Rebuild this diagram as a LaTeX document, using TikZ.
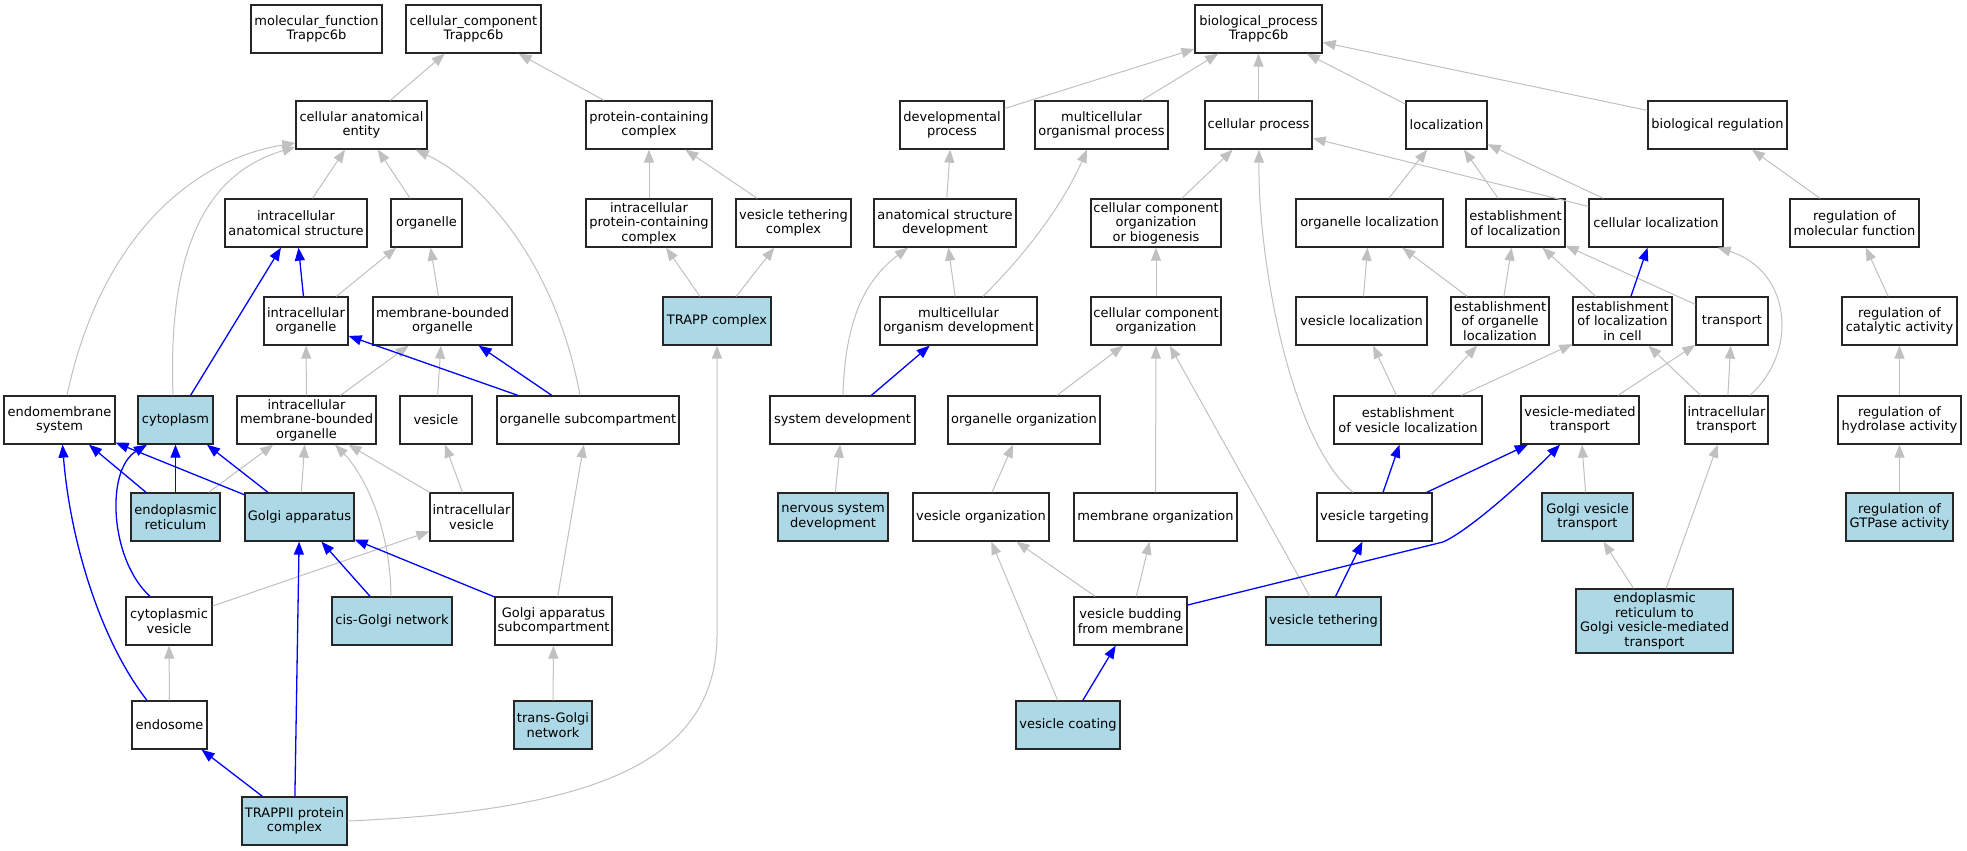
\documentclass[tikz,border=0pt]{standalone}
\usepackage{fontspec}
\setmainfont{DejaVu Sans}
\usepackage{tikz}
\usetikzlibrary{positioning, shapes, arrows.meta}
\definecolor{hitblue}{HTML}{ADD8E6}
\definecolor{isagrey}{HTML}{C0C0C0}
\begin{document}
\begin{tikzpicture}[x=1pt, y=-1pt,
	term/.style={rectangle, draw=black!85, line width=1.3pt, fill=white, minimum height=48pt, inner sep=0pt, align=center, font=\fontsize{13pt}{14.5pt}\selectfont},
	hit/.style={term, fill=hitblue},
	isa/.style={draw=isagrey, line width=1pt, -{Triangle[length=13pt, width=10pt]}},
	link/.style={draw=blue, line width=1.3pt, -{Triangle[length=13pt, width=10pt]}}]
					\useasboundingbox (0,0) rectangle (1967,851);
					\node[term, minimum width=131pt] (mf) at (316.5,29) {molecular\_function\\Trappc6b};
					\node[term, minimum width=135pt] (cc) at (473.5,29) {cellular\_component\\Trappc6b};
					\node[term, minimum width=127pt] (bp) at (1258.5,29) {biological\_process\\Trappc6b};
					
					\node[term, minimum width=131pt] (cae) at (361.5,125) {cellular anatomical\\entity};
					\node[term, minimum width=126pt] (pcc) at (649,125) {protein-containing\\complex};
					\node[term, minimum width=104pt] (devp) at (952,125) {developmental\\process};
					\node[term, minimum width=133pt] (mop) at (1101.5,125) {multicellular\\organismal process};
					\node[term, minimum width=107pt] (cp) at (1258.5,125) {cellular process};
					\node[term, minimum width=81pt] (loc) at (1446.5,125) {localization};
					\node[term, minimum width=139pt] (breg) at (1717.5,125) {biological regulation};
					
					\node[term, minimum width=142pt] (ias) at (296,223) {intracellular\\anatomical structure};
					\node[term, minimum width=71pt] (org) at (426.5,223) {organelle};
					\node[term, minimum width=126pt] (ipcc) at (649,223) {intracellular\\protein-containing\\complex};
					\node[term, minimum width=115pt] (vtc) at (793.5,223) {vesicle tethering\\complex};
					\node[term, minimum width=142pt] (asd) at (945,223) {anatomical structure\\development};
					\node[term, minimum width=130pt] (ccob) at (1156,223) {cellular component\\organization\\or biogenesis};
					\node[term, minimum width=147pt] (orgloc) at (1369.5,223) {organelle localization};
					\node[term, minimum width=99pt] (estloc) at (1515.5,223) {establishment\\of localization};
					\node[term, minimum width=134pt] (cellloc) at (1656,223) {cellular localization};
					\node[term, minimum width=129pt] (rmf) at (1854.5,223) {regulation of\\molecular function};
					
					\node[term, minimum width=84pt] (iorg) at (306,321) {intracellular\\organelle};
					\node[term, minimum width=139pt] (mbo) at (442.5,321) {membrane-bounded\\organelle};
					\node[hit, minimum width=108pt] (trapp) at (717,321) {TRAPP complex};
					\node[term, minimum width=157pt] (mod) at (958.5,321) {multicellular\\organism development};
					\node[term, minimum width=130pt] (cco) at (1156,321) {cellular component\\organization};
					\node[term, minimum width=131pt] (vesloc) at (1361.5,321) {vesicle localization};
					\node[term, minimum width=98pt] (eol) at (1500,321) {establishment\\of organelle\\localization};
					\node[term, minimum width=99pt] (elc) at (1622.5,321) {establishment\\of localization\\in cell};
					\node[term, minimum width=72pt] (transp) at (1732,321) {transport};
					\node[term, minimum width=115pt] (rca) at (1899.5,321) {regulation of\\catalytic activity};
					
					\node[term, minimum width=111pt] (ems) at (59.5,420) {endomembrane\\system};
					\node[hit, minimum width=75pt] (cyto) at (175.5,420) {cytoplasm};
					\node[term, minimum width=139pt] (imbo) at (306.5,420) {intracellular\\membrane-bounded\\organelle};
					\node[term, minimum width=72pt] (ves) at (436,420) {vesicle};
					\node[term, minimum width=182pt] (osc) at (588,420) {organelle subcompartment};
					\node[term, minimum width=145pt] (sysdev) at (842.5,420) {system development};
					\node[term, minimum width=152pt] (oo) at (1024,420) {organelle organization};
					\node[term, minimum width=148pt] (evl) at (1408,420) {establishment\\of vesicle localization};
					\node[term, minimum width=118pt] (vmt) at (1580,420) {vesicle-mediated\\transport};
					\node[term, minimum width=83pt] (itr) at (1726.5,420) {intracellular\\transport};
					\node[term, minimum width=123pt] (rha) at (1899.5,420) {regulation of\\hydrolase activity};
					
					\node[hit, minimum width=89pt] (er) at (175.5,517) {endoplasmic\\reticulum};
					\node[hit, minimum width=109pt] (golgi) at (299.5,517) {Golgi apparatus};
					\node[term, minimum width=83pt] (iv) at (471.5,517) {intracellular\\vesicle};
					\node[hit, minimum width=110pt] (nsd) at (833,517) {nervous system\\development};
					\node[term, minimum width=136pt] (vo) at (981,517) {vesicle organization};
					\node[term, minimum width=163pt] (mo) at (1155.5,517) {membrane organization};
					\node[term, minimum width=115pt] (vt) at (1374.5,517) {vesicle targeting};
					\node[hit, minimum width=91pt] (gvt) at (1587.5,517) {Golgi vesicle\\transport};
					\node[hit, minimum width=107pt] (rgtp) at (1899.5,517) {regulation of\\GTPase activity};
					
					\node[term, minimum width=86pt] (cv) at (169,621) {cytoplasmic\\vesicle};
					\node[hit, minimum width=120pt] (cisg) at (392,621) {cis-Golgi network};
					\node[term, minimum width=117pt] (gas) at (553.5,621) {Golgi apparatus\\subcompartment};
					\node[term, minimum width=113pt] (vbm) at (1130.5,621) {vesicle budding\\from membrane};
					\node[hit, minimum width=115pt] (vteth) at (1323.5,621) {vesicle tethering};
					\node[hit, minimum width=157pt, minimum height=64pt] (ergvt) at (1654.5,621) {endoplasmic\\reticulum to\\Golgi vesicle-mediated\\transport};
					
					\node[term, minimum width=75pt] (endo) at (169.5,725) {endosome};
					\node[hit, minimum width=78pt] (tgn) at (553,725) {trans-Golgi\\network};
					\node[hit, minimum width=104pt] (vc) at (1068,725) {vesicle coating};
					
					\node[hit, minimum width=105pt] (trappii) at (294.5,821) {TRAPPII protein\\complex};
					
					\draw[isa] (cae) -- (cc);
					\draw[isa] (pcc) -- (cc);
					\draw[isa] (ias) -- (cae);
					\draw[isa] (org) -- (cae);
					\draw[isa] ([xshift=7.5pt]ems.north) .. controls (100,240) and (190,160) .. ([yshift=-18pt]cae.west);
					\draw[isa] ([xshift=-2.5pt]cyto.north) .. controls (168,260) and (200,175) .. ([yshift=-22pt]cae.west);
					\draw[isa] ([xshift=-8pt]osc.north) .. controls (555,260) and (480,180) .. ([xshift=-12pt]cae.south east);
					\draw[isa] (iorg) -- (org);
					\draw[isa] (mbo) -- (org);
					\draw[isa] (imbo) -- (iorg);
					\draw[isa] (imbo) -- (mbo);
					\draw[isa] (ves) -- (mbo);
					\draw[isa] (ipcc) -- (pcc);
					\draw[isa] (vtc) -- (pcc);
					\draw[isa] (trapp) -- (ipcc);
					\draw[isa] (trapp) -- (vtc);
					\draw[isa] (trappii.east) .. controls (600,810) and (717,760) .. (717,634) -- (trapp.south);
					\draw[isa] (er) -- (imbo);
					\draw[isa] (golgi) -- (imbo);
					\draw[isa] (iv) -- (imbo);
					\draw[isa] (iv) -- (ves);
					\draw[isa] ([xshift=-1pt]cisg.north) .. controls (390,520) and (360,470) .. ([xshift=28.5pt]imbo.south);
					\draw[isa] (gas) -- (osc);
					\draw[isa] (cv) -- (iv);
					\draw[isa] (endo) -- (cv);
					\draw[isa] (tgn) -- (gas);
					
					\draw[link] (iorg) -- (ias);
					\draw[link] (cyto) -- (ias);
					\draw[link] (osc) -- (iorg);
					\draw[link] (osc) -- (mbo);
					\draw[link] (er) -- (ems);
					\draw[link] (er) -- (cyto);
					\draw[link] (golgi) -- (ems);
					\draw[link] (golgi) -- (cyto);
					\draw[link] (cisg) -- (golgi);
					\draw[link] (gas) -- (golgi);
					\draw[link] (trappii) -- (endo);
					\draw[link] (trappii) -- (golgi);
					\draw[link] ([xshift=-19pt]cv.north) .. controls (110,560) and (105,470) .. ([xshift=-28.5pt]cyto.south);
					\draw[link] ([xshift=-22.5pt]endo.north) .. controls (100,640) and (70,540) .. ([xshift=3pt]ems.south);
					
					\draw[isa] (devp) -- (bp);
					\draw[isa] (mop) -- (bp);
					\draw[isa] (cp) -- (bp);
					\draw[isa] (loc) -- (bp);
					\draw[isa] (breg) -- (bp);
					\draw[isa] (asd) -- (devp);
					\draw[isa] (mod) -- (asd);
					\draw[isa] ([xshift=24.5pt]mod.north) .. controls (1030,250) and (1065,200) .. ([xshift=-14.5pt]mop.south);
					\draw[isa] ([xshift=0.5pt]sysdev.north) .. controls (845,320) and (865,280) .. ([xshift=-37pt]asd.south);
					\draw[isa] (nsd) -- (sysdev);
					\draw[isa] (ccob) -- (cp);
					\draw[isa] (cco) -- (ccob);
					\draw[isa] (oo) -- (cco);
					\draw[isa] (mo) -- (cco);
					\draw[isa] (vteth) -- (cco);
					\draw[isa] (vo) -- (oo);
					\draw[isa] (vbm) -- (vo);
					\draw[isa] (vbm) -- (mo);
					\draw[isa] (vc) -- (vo);
					\draw[isa] ([xshift=-21.5pt]vt.north) .. controls (1290,440) and (1258,260) .. ([xshift=0.5pt]cp.south);
					
					\draw[link] (sysdev) -- (mod);
					\draw[link] (vc) -- (vbm);
					\draw[link] (vt) -- (evl);
					\draw[link] (vt) -- (vmt);
					\draw[link] (vteth) -- (vt);
					\draw[link] ([yshift=16pt]vbm.east) -- (1443,542) .. controls (1470,530) and (1525,480) .. ([xshift=-20pt]vmt.south);
					
					\draw[isa] (orgloc) -- (loc);
					\draw[isa] (estloc) -- (loc);
					\draw[isa] (cellloc) -- (loc);
					\draw[isa] (cellloc) -- (cp);
					\draw[isa] (vesloc) -- (orgloc);
					\draw[isa] (eol) -- (orgloc);
					\draw[isa] (eol) -- (estloc);
					\draw[isa] (elc) -- (estloc);
					\draw[isa] (transp) -- (estloc);
					\draw[isa] (evl) -- (vesloc);
					\draw[isa] (evl) -- (eol);
					\draw[isa] (evl) -- (elc);
					\draw[isa] (vmt) -- (transp);
					\draw[isa] (itr) -- (elc);
					\draw[isa] (itr) -- (transp);
					\draw[isa] ([xshift=23.5pt]itr.north) .. controls (1800,350) and (1790,270) .. ([xshift=-6pt]cellloc.south east);
					\draw[isa] (gvt) -- (vmt);
					\draw[isa] (ergvt) -- (gvt);
					\draw[isa] (ergvt) -- (itr);
					\draw[isa] (rmf) -- (breg);
					\draw[isa] (rca) -- (rmf);
					\draw[isa] (rha) -- (rca);
					\draw[isa] (rgtp) -- (rha);
					
					\draw[link] (elc) -- (cellloc);
				\end{tikzpicture}
\end{document}
